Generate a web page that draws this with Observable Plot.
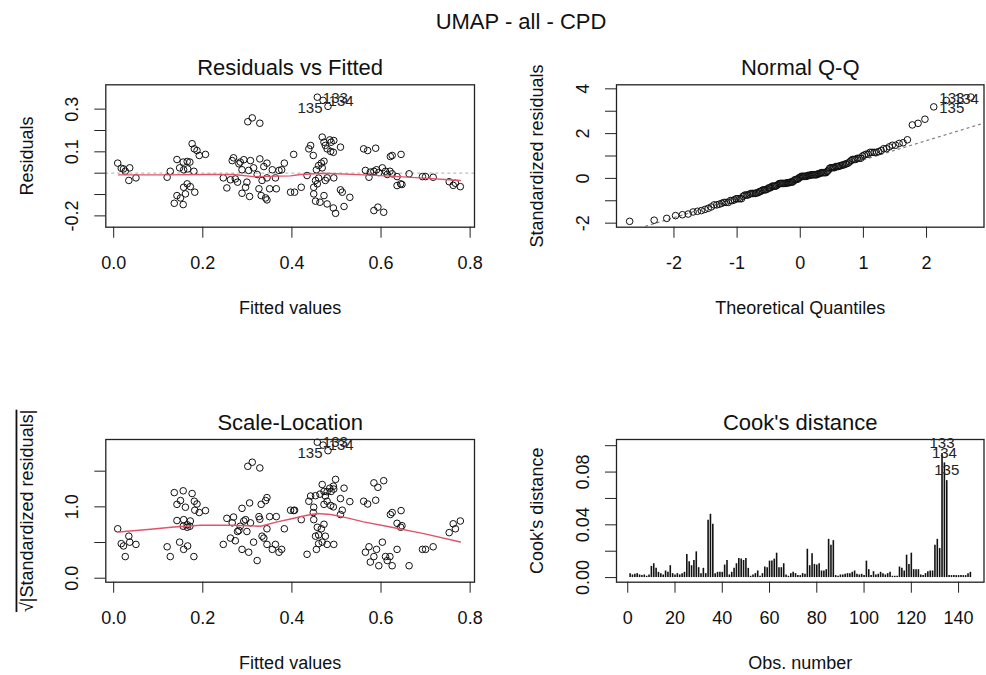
<!DOCTYPE html>
<html><head><meta charset="utf-8">
<script src="https://cdn.jsdelivr.net/npm/d3@7"></script>
<script src="https://cdn.jsdelivr.net/npm/@observablehq/plot@0.6"></script>
<style>
body{margin:0;background:#fff;}
#wrap{position:relative;width:986px;height:675px;overflow:hidden;font-family:"Liberation Sans",Arial,sans-serif;background:#fff;}
#wrap svg{position:absolute;overflow:visible;}
#title{position:absolute;top:9px;left:371px;width:300px;text-align:center;font-size:22px;line-height:26px;color:#111;}
</style></head>
<body><div id="wrap"><div id="title">UMAP - all - CPD</div></div>
<script>
// ---------- data ----------
const mainTitle = "UMAP - all - CPD";
const panelTitles = ["Residuals vs Fitted", "Normal Q-Q", "Scale-Location", "Cook's distance"];
// fitted values, obs 1..145 (obs 133,134,135 at positions 133..135)
const fitted = [
.009,.017,.036,.026,.034,.050,.022,
.120,.127,.142,.156,.165,.171,.148,.157,.166,.180,.176,.181,.187,.192,.206,.165,.157,.172,.182,.142,.136,.150,.156,.161,
.246,.254,.262,.266,.269,.273,.278,.284,.288,.292,.296,.299,.303,.307,.301,.311,.328,.305,.288,.314,.322,.328,.333,.337,.344,.344,.326,.331,.341,.344,.350,.356,.363,.365,.371,.377,.383,.397,.404,.281,
.406,.421,.434,.438,.442,.448,.453,.449,.455,.460,.466,.468,.472,.475,.479,.485,.488,.494,.487,.493,.509,.472,.468,.460,.479,.494,.457,.475,.449,.453,.472,.463,.479,.493,.498,.517,.509,.513,.530,
.561,.570,.588,.565,.573,.576,.584,.590,.603,.610,.614,.620,.621,.625,.645,.625,.636,.636,.644,.647,.584,.593,
.457,.470,.481,
.606,.663,.693,.700,.717,.753,.762,.778,.767,.595];
// residuals, same order
const residuals = [
.047,.023,.025,.009,-.034,-.022,.020,
-.019,.009,.064,.052,.055,.052,.025,.016,.020,.009,.138,.114,.106,.083,.088,-.050,-.066,-.063,-.089,-.105,-.141,-.116,-.147,-.097,
-.022,-.069,-.031,.059,.072,-.027,-.042,.052,.016,.063,-.066,-.042,.013,.059,.241,.259,.234,-.109,-.094,.025,-.006,.067,-.034,.031,.047,-.022,-.073,-.105,-.116,-.125,-.073,.016,-.022,-.073,.013,.016,.047,-.089,.088,.044,
-.089,-.066,-.011,.114,.130,.083,-.034,-.066,.016,.036,.047,.169,.145,.130,.114,.156,.145,.153,.102,.098,.122,.056,.025,-.023,-.022,-.022,-.050,-.034,-.097,-.131,-.105,-.136,-.144,-.163,-.188,-.156,-.078,-.089,-.113,
.114,.106,.117,.013,-.019,.005,.009,.016,.025,.009,-.006,.009,.078,.083,.088,-.003,-.016,-.058,-.050,-.053,-.175,-.159,
.356,.341,.313,
-.183,-.003,-.016,-.016,-.019,-.040,-.057,-.063,-.047,.003];
const sigma = 0.098;            // residual standard error (from 133: 0.356 -> 3.63)
// Cook's distance, obs 1..145
const cooks = [
.003,.002,.0025,.003,.002,.0015,.002,.001,.002,.0085,
.0105,.007,.004,.003,.002,.005,.004,.009,.003,.002,
.003,.002,.003,.004,.0175,.012,.009,.013,.0195,.0075,
.003,.007,.003,.0435,.048,.0405,.003,.004,.004,.004,
.0095,.013,.002,.004,.007,.0105,.0145,.014,.013,.0145,
.007,.001,.002,.003,.005,.001,.003,.008,.0075,.0125,
.0125,.014,.0185,.0075,.0075,.0105,.002,.001,.003,.004,
.003,.0015,.0015,.003,.0025,.0215,.009,.018,.010,.0095,
.0105,.005,.005,.006,.029,.0245,.028,.0015,.001,.002,
.002,.0025,.003,.003,.004,.005,.0025,.002,.0025,.0015,
.0125,.006,.0015,.0045,.002,.0025,.004,.003,.002,.003,
.004,.001,.001,.001,.008,.007,.005,.017,.010,.0185,
.006,.006,.006,.002,.0015,.003,.0045,.005,.005,.0245,
.029,.022,.094,.087,.0735,.0015,.0015,.0015,.0015,.0015,
.0015,.0015,.0015,.003,.004];
const labelledObs = [133, 134, 135];
// lowess smooths (red)
const smooth1X = [.011,.120,.210,.269,.314,.397,.419,.472,.561,.621,.696,.778];
const smooth1Y = [-.008,-.008,-.006,-.006,-.016,-.0125,-.006,0,-.008,-.014,-.023,-.034];
const smooth3X = [.011,.083,.135,.195,.270,.330,.367,.397,.434,.457,.487,.524,.561,.621,.696,.778];
const smooth3Y = [.648,.686,.718,.742,.742,.728,.789,.830,.883,.907,.893,.845,.789,.718,.625,.507];
// Q-Q reference line
const qqIntercept = -0.03, qqSlope = 0.86;
// ticks
const fitTicks = [0, .2, .4, .6, .8];
const resTicks = [-.2, -.1, 0, .1, .2, .3], resLabels = [-.2, .1, .3];
const qxTicks = [-2, -1, 0, 1, 2];
const qyTicks = [-2, -1, 0, 1, 2, 3, 4], qyLabels = [-2, 0, 2, 4];
const slTicks = [0, .5, 1, 1.5], slLabels = [0, 1];
const obsTicks = [0, 20, 40, 60, 80, 100, 120, 140];
const ckTicks = [0, .02, .04, .06, .08, .10], ckLabels = [0, .04, .08];

// ---------- helpers ----------
function qnorm(p){
 const a=[-3.969683028665376e+01,2.209460984245205e+02,-2.759285104469687e+02,1.383577518672690e+02,-3.066479806614716e+01,2.506628277459239e+00];
 const b=[-5.447609879822406e+01,1.615858368580409e+02,-1.556989798598866e+02,6.680131188771972e+01,-1.328068155288572e+01];
 const c=[-7.784894002430293e-03,-3.223964580411365e-01,-2.400758277161838e+00,-2.549732539343734e+00,4.374664141464968e+00,2.938163982698783e+00];
 const d=[7.784695709041462e-03,3.224671290700398e-01,2.445134137142996e+00,3.754408661907416e+00];
 const pl=0.02425, ph=1-pl;
 if(p<pl){const q=Math.sqrt(-2*Math.log(p));return (((((c[0]*q+c[1])*q+c[2])*q+c[3])*q+c[4])*q+c[5])/((((d[0]*q+d[1])*q+d[2])*q+d[3])*q+1);}
 if(p<=ph){const q=p-0.5,r=q*q;return (((((a[0]*r+a[1])*r+a[2])*r+a[3])*r+a[4])*r+a[5])*q/(((((b[0]*r+b[1])*r+b[2])*r+b[3])*r+b[4])*r+1);}
 const q=Math.sqrt(-2*Math.log(1-p));return -(((((c[0]*q+c[1])*q+c[2])*q+c[3])*q+c[4])*q+c[5])/((((d[0]*q+d[1])*q+d[2])*q+d[3])*q+1);
}
const n = fitted.length;
const pts = fitted.map((f, i) => {
  const s = residuals[i] / sigma;
  return {obs: i + 1, fit: f, res: residuals[i], std: s, sl: Math.sqrt(Math.abs(s))};
});
const qq = d3.sort(pts, d => d.std).map((d, i) => ({...d, theo: qnorm((i + 0.5) / n)}));
const smooth1 = smooth1X.map((x, i) => ({x, y: smooth1Y[i]}));
const smooth3 = smooth3X.map((x, i) => ({x, y: smooth3Y[i]}));
const fmt1 = d => d.toFixed(1), fmt0 = d => String(d), fmt2 = d => d.toFixed(2);
const FONT = "Liberation Sans, Arial, Helvetica, sans-serif";
const INK = "#111";
const RED = "#DF536B";
const lab = obs => d => labelledObs.includes(d.obs) && d.obs === obs;
const T = {fill: INK, textAnchor: "middle", lineAnchor: "middle"};

function panel(o) {
  const {left, top, width, height, box} = o;
  const svg = Plot.plot({
    width, height,
    marginLeft: box.l - left, marginRight: left + width - box.r,
    marginTop: box.t - top, marginBottom: top + height - box.b,
    style: {fontFamily: FONT, fontSize: "18px", color: "#222", background: "transparent", overflow: "visible"},
    x: {domain: o.xDomain, ticks: o.xTicks, tickSize: 11, tickFormat: () => "", label: null},
    y: {domain: o.yDomain, ticks: o.yTicks, tickSize: 11, tickFormat: () => "", label: null},
    marks: [
      ...o.marks,
      Plot.frame({stroke: "#222", strokeWidth: 1.3}),
      Plot.text(o.xLabels, {x: d => d, text: o.xFmt, frameAnchor: "bottom", dy: 36, fontSize: 18, ...T}),
      Plot.text(o.yLabels, {y: d => d, text: o.yFmt, frameAnchor: "left", dx: -33.5, rotate: -90, fontSize: 18, ...T}),
      Plot.text([o.xTitle], {text: d => d, frameAnchor: "bottom", dy: 81, fontSize: 18, ...T}),
      Plot.text([o.yTitle], {text: d => d, frameAnchor: "left", dx: -79, rotate: -90, fontSize: 18, className: "ytitle", ...T}),
      Plot.text([o.title], {text: d => d, frameAnchor: "top", dy: -17, fontSize: 22, ...T})
    ]
  });
  svg.style.left = left + "px";
  svg.style.top = top + "px";
  document.getElementById("wrap").appendChild(svg);
  return svg;
}

const dotOpts = {r: 3.3, stroke: INK, strokeWidth: 1, fill: "none"};
const L = {fontSize: 15, fill: "#222", lineAnchor: "middle", textAnchor: "middle"};
const topBoxT = 84.3, topBoxB = 226.7, botBoxT = 439, botBoxB = 581.7;
const leftL = 105.3, leftR = 474, rightL = 616, rightR = 983.5;
const fitDomain = [-0.0177, 0.8098];

// Panel 1: Residuals vs Fitted
panel({
  left: 0, top: 40, width: 493, height: 300,
  box: {l: leftL, r: leftR, t: topBoxT, b: topBoxB},
  xDomain: fitDomain, yDomain: [-0.253, 0.414],
  xTicks: fitTicks, yTicks: resTicks, xLabels: fitTicks, yLabels: resLabels, xFmt: fmt1, yFmt: fmt1,
  xTitle: "Fitted values", yTitle: "Residuals", title: panelTitles[0],
  marks: [
    Plot.ruleY([0], {stroke: "#BEBEBE", strokeWidth: 1.3, strokeDasharray: "3,3"}),
    Plot.dot(pts, {x: "fit", y: "res", ...dotOpts}),
    Plot.line(smooth1, {x: "x", y: "y", stroke: RED, strokeWidth: 1.4}),
    Plot.text(pts.filter(d => d.obs === 133 || d.obs === 134), {x: "fit", y: "res", text: d => String(d.obs), dx: 18, dy: 1, ...L}),
    Plot.text(pts.filter(lab(135)), {x: "fit", y: "res", text: d => String(d.obs), dx: -18, dy: 2, ...L})
  ]
});

// Panel 2: Normal Q-Q
const qxDomain = [-2.91, 2.91];
panel({
  left: 493, top: 40, width: 493, height: 300,
  box: {l: rightL, r: rightR, t: topBoxT, b: topBoxB},
  xDomain: qxDomain, yDomain: [-2.18, 4.18],
  xTicks: qxTicks, yTicks: qyTicks, xLabels: qxTicks, yLabels: qyLabels, xFmt: fmt0, yFmt: fmt0,
  xTitle: "Theoretical Quantiles", yTitle: "Standardized residuals", title: panelTitles[1],
  marks: [
    Plot.link([qxDomain], {x1: d => d[0], x2: d => d[1], y1: d => qqIntercept + qqSlope * d[0], y2: d => qqIntercept + qqSlope * d[1], stroke: "#7F7F7F", strokeWidth: 1.2, strokeDasharray: "3,3", clip: true}),
    Plot.dot(qq, {x: "theo", y: "std", ...dotOpts}),
    Plot.text(qq.filter(lab(133)), {x: "theo", y: "std", text: d => String(d.obs), dx: -19, dy: 1, ...L}),
    Plot.text(qq.filter(lab(134)), {x: "theo", y: "std", text: d => String(d.obs), dx: 20, dy: -1, ...L}),
    Plot.text(qq.filter(lab(135)), {x: "theo", y: "std", text: d => String(d.obs), dx: 18, dy: 1.5, ...L})
  ]
});

// Panel 3: Scale-Location
const p3 = panel({
  left: 0, top: 340, width: 493, height: 335,
  box: {l: leftL, r: leftR, t: botBoxT, b: botBoxB},
  xDomain: fitDomain, yDomain: [-0.056, 1.944],
  xTicks: fitTicks, yTicks: slTicks, xLabels: fitTicks, yLabels: slLabels, xFmt: fmt1, yFmt: fmt1,
  xTitle: "Fitted values", yTitle: "\u221A|Standardized residuals|", title: panelTitles[2],
  marks: [
    Plot.dot(pts, {x: "fit", y: "sl", ...dotOpts}),
    Plot.line(smooth3, {x: "x", y: "y", stroke: RED, strokeWidth: 1.4}),
    Plot.text(pts.filter(d => d.obs === 133 || d.obs === 134), {x: "fit", y: "sl", text: d => String(d.obs), dx: 18, dy: 0, ...L}),
    Plot.text(pts.filter(lab(135)), {x: "fit", y: "sl", text: d => String(d.obs), dx: -18, dy: 2.5, ...L})
  ]
});
d3.select(p3).selectAll(".ytitle text").style("text-decoration", "overline");

// Panel 4: Cook's distance
const obsIdx = d3.range(1, cooks.length + 1);
panel({
  left: 493, top: 340, width: 493, height: 335,
  box: {l: rightL, r: rightR, t: botBoxT, b: botBoxB},
  xDomain: [-4.76, 150.76], yDomain: [-0.0035, 0.1047],
  xTicks: obsTicks, yTicks: ckTicks, xLabels: obsTicks, yLabels: ckLabels, xFmt: fmt0, yFmt: fmt2,
  xTitle: "Obs. number", yTitle: "Cook's distance", title: panelTitles[3],
  marks: [
    Plot.ruleX(obsIdx, {x: d => d, y1: 0, y2: d => cooks[d - 1], stroke: INK, strokeWidth: 1.6}),
    Plot.text(labelledObs, {x: d => d, y: d => cooks[d - 1], text: d => String(d), dy: -10, ...L})
  ]
});
</script>
</body></html>
